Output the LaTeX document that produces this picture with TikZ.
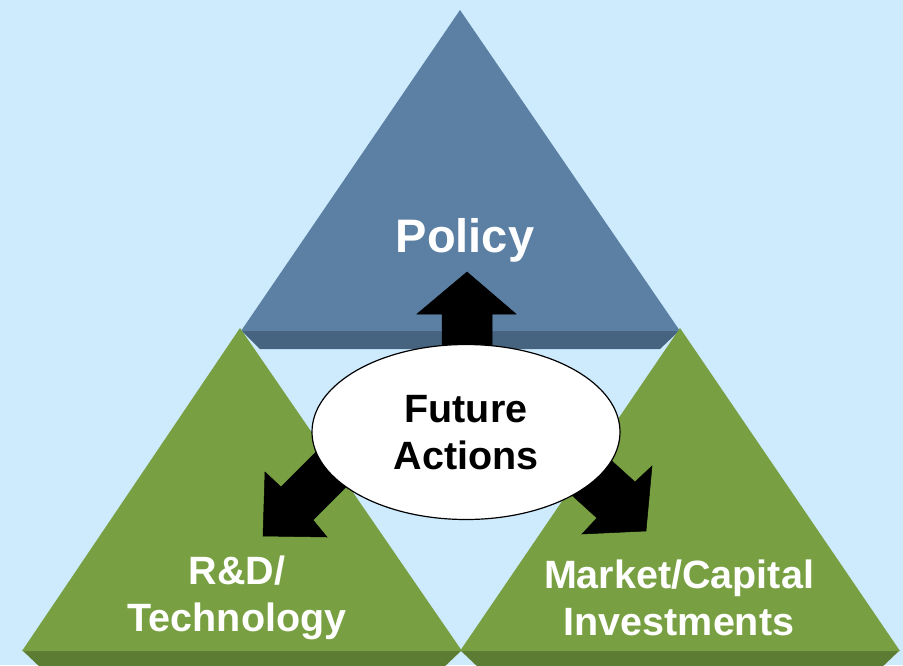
\documentclass[tikz,border=0pt]{standalone}
\usepackage{fontspec}
\setmainfont{Liberation Sans}
\usetikzlibrary{shapes.geometric}
\definecolor{bg}{RGB}{205,235,253}
\definecolor{blueface}{RGB}{92,128,163}
\definecolor{blueband}{RGB}{70,99,127}
\definecolor{greenface}{RGB}{120,160,66}
\definecolor{greenband}{RGB}{92,123,51}
\begin{document}
\begin{tikzpicture}[x=1pt,y=-1pt,
  face/.style={draw=none},
  blockarrow/.style={fill=black,draw=black,line width=0.5pt},
  label/.style={font=\bfseries\fontsize{39.5}{47}\selectfont,align=center,text=white,inner sep=0pt}]
\useasboundingbox (0,0) rectangle (903,665);
\fill[bg] (0,0) rectangle (903,665);
\begin{scope}
\clip (0,0) rectangle (903,665);
% Policy triangle
\fill[blueband] (241,330) -- (680,330) -- (660,349) -- (260,349) -- cycle;
\fill[blueface] (460,10) -- (680,331) -- (241,331) -- cycle;
% Left green triangle
\fill[greenband] (22,650) -- (462,650) -- (442,669) -- (42,669) -- cycle;
\fill[greenface] (240,328) -- (462,651) -- (22,651) -- cycle;
% Right green triangle
\fill[greenband] (460,650) -- (900,650) -- (880,669) -- (480,669) -- cycle;
\fill[greenface] (680,328) -- (900,651) -- (460,651) -- cycle;
\end{scope}
% arrows
\filldraw[blockarrow] (467,272) -- (516,314) -- (492,314) -- (492,380) -- (442,380) -- (442,314) -- (417,314) -- cycle;
\filldraw[blockarrow] (263,536) -- (265,472) -- (281,487) -- (336,432) -- (368,465) -- (313,520) -- (327,537) -- cycle;
\filldraw[blockarrow] (646,531) -- (582,534) -- (597,518) -- (542,468) -- (580,432) -- (635,482) -- (652,466) -- cycle;
% ellipse
\node[draw=black,line width=1.2pt,fill=white,ellipse,minimum width=308pt,minimum height=175pt,inner sep=0pt] (fa) at (466,432) {};
\node[label,text=black] (fatext) at (466,433) {Future\\Actions};
\node[label,font=\bfseries\fontsize{47}{56}\selectfont] (policy) at (465,240) {Policy};
\node[label] (rd) at (237,598) {R\&D/\\Technology};
\node[label] (mc) at (679,598) {Market/Capital\\Investments};
\end{tikzpicture}
\end{document}
